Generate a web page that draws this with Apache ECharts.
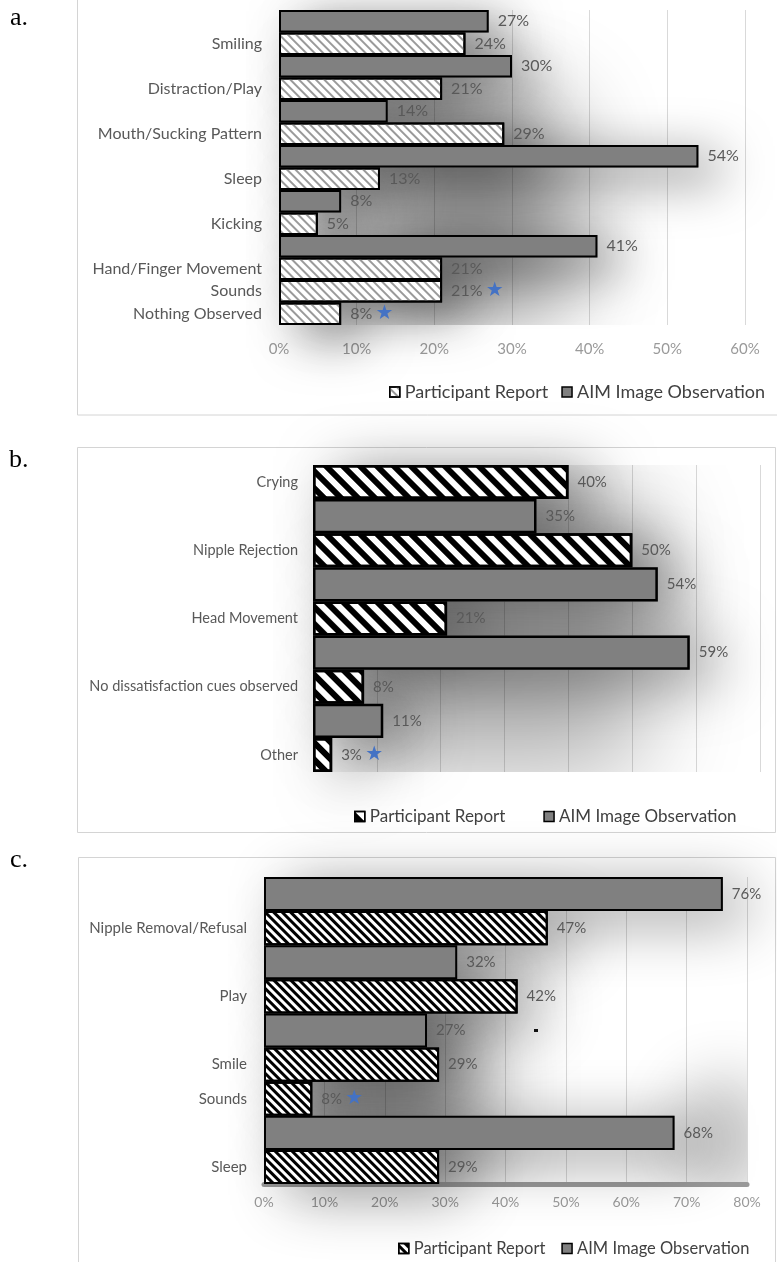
<!DOCTYPE html>
<html>
<head>
<meta charset="utf-8">
<script src="https://cdn.jsdelivr.net/npm/echarts@6/dist/echarts.min.js"></script>
<style>
  html, body { margin: 0; padding: 0; background: #ffffff; }
  #chart { width: 777px; height: 1262px; }
</style>
</head>
<body>
<div id="chart"></div>
<script>
// ---- Panel a: engagement / satiation cues ----
const aCategories = ['Smiling', 'Distraction/Play', 'Mouth/Sucking Pattern', 'Sleep', 'Kicking', 'Hand/Finger Movement', 'Sounds', 'Nothing Observed'];
const aParticipant = [24, 21, 29, 13, 5, 21, 21, 8];
const aAIM = [27, 30, 14, 54, 8, 41, null, null];
const aStarred = ['Sounds', 'Nothing Observed'];
const aAxisMax = 60;

// ---- Panel b: dissatisfaction cues ----
const bCategories = ['Crying', 'Nipple Rejection', 'Head Movement', 'No dissatisfaction cues observed', 'Other'];
const bParticipant = [40, 50, 21, 8, 3];
const bAIM = [35, 54, 59, 11, null];
const bStarred = ['Other'];
const bAxisMax = 70;

// ---- Panel c: end-of-feed cues ----
const cCategories = ['Nipple Removal/Refusal', 'Play', 'Smile', 'Sounds', 'Sleep'];
const cParticipant = [47, 42, 29, 8, 29];
const cAIM = [76, 32, 27, null, 68];
const cStarred = ['Sounds'];
const cAxisMax = 80;

const seriesNames = ['Participant Report', 'AIM Image Observation'];
const tickStep = 10;

const FONT = 'Lato, "Open Sans", sans-serif';
const LABEL_GREY = '#595959';

// One bar row per value; the category name sits on the participant row.
function buildRows(cats, pr, aim, aimFirst) {
  const rows = [];
  cats.forEach((c, i) => {
    const p = { label: c, cat: c, pr: pr[i], aim: null };
    const a = aim[i] == null ? null : { label: '', cat: c, pr: null, aim: aim[i] };
    if (aimFirst) { if (a) rows.push(a); rows.push(p); }
    else { rows.push(p); if (a) rows.push(a); }
  });
  return rows;
}

// Plot-area haze: core box as fractions of the plot [x0, y0, x1, y1], blur radius, opacity
const panels = [
  {
    key: 'a', rows: buildRows(aCategories, aParticipant, aAIM, true), starred: aStarred, max: aAxisMax,
    grid: { left: 279, top: 10, width: 466, height: 315 },
    prDecal: { color: '#9a9a9a', dashArrayY: [2, 3.4] }, border: 2,
    showTicks: true, axisLine: false, tickMargin: 17, tickFont: 15, catFont: 16, valFont: 16, catMargin: 17,
    shadow: { blur: 50, color: 'rgba(0,0,0,0.55)', x: 22, y: 12 },
    haze: [[0.2, 0.28, 0.62, 0.98, 90, 0.42]],
    legend: { left: 384, top: 378, itemGap: 13, fontSize: 18 }
  },
  {
    key: 'b', rows: buildRows(bCategories, bParticipant, bAIM, false), starred: bStarred, max: bAxisMax,
    grid: { left: 313, top: 465, width: 447, height: 307 },
    prDecal: { color: '#000000', dashArrayY: [5.5, 5.5] }, border: 2.5,
    showTicks: false, axisLine: false, tickMargin: 14, tickFont: 14, catFont: 14.5, valFont: 15, catMargin: 15,
    shadow: { blur: 60, color: 'rgba(0,0,0,0.5)', x: 26, y: 8 },
    haze: [[0.08, 0.08, 0.74, 1.0, 100, 0.3]],
    legend: { left: 349, top: 803, itemGap: 38, fontSize: 17 }
  },
  {
    key: 'c', rows: buildRows(cCategories, cParticipant, cAIM, true), starred: cStarred, max: cAxisMax,
    grid: { left: 264, top: 877, width: 483, height: 307 },
    prDecal: { color: '#000000', dashArrayY: [2.6, 2.6] }, border: 2,
    showTicks: true, axisLine: true, tickMargin: 11, tickFont: 14, catFont: 15, valFont: 15, catMargin: 17,
    shadow: { blur: 60, color: 'rgba(0,0,0,0.45)', x: 24, y: 10 },
    haze: [[0.08, 0.32, 0.45, 1.05, 90, 0.4], [0.86, 0.65, 1.05, 1.05, 60, 0.22]],
    legend: { left: 393, top: 1235, itemGap: 16, fontSize: 16.5 }
  }
];

const option = {
  animation: false,
  backgroundColor: '#ffffff',
  grid: [], xAxis: [], yAxis: [], series: [], legend: [],
  graphic: {
    elements: [
      // panel frames
      { type: 'rect', shape: { x: 77.5, y: -2, width: 705, height: 417 }, style: { fill: 'none', stroke: '#d4d4d4', lineWidth: 1 }, z: 0 },
      { type: 'rect', shape: { x: 77.5, y: 447.5, width: 698, height: 385 }, style: { fill: 'none', stroke: '#d4d4d4', lineWidth: 1 }, z: 0 },
      { type: 'rect', shape: { x: 78.5, y: 857.5, width: 697, height: 410 }, style: { fill: 'none', stroke: '#d4d4d4', lineWidth: 1 }, z: 0 },
      // panel letters
      { type: 'text', left: 10, top: 5, style: { text: 'a.', font: '26px "Liberation Serif", "DejaVu Serif", serif', fill: '#000' } },
      { type: 'text', left: 9, top: 447, style: { text: 'b.', font: '26px "Liberation Serif", "DejaVu Serif", serif', fill: '#000' } },
      { type: 'text', left: 10, top: 847, style: { text: 'c.', font: '26px "Liberation Serif", "DejaVu Serif", serif', fill: '#000' } },
      // small stray mark inside panel c
      { type: 'rect', shape: { x: 534, y: 1029, width: 4, height: 3 }, style: { fill: '#111' }, z: 10 }
    ]
  }
};

const FAR = 4000; // the haze source is drawn off-canvas; only its blurred shadow lands in the plot

panels.forEach((pn, idx) => {
  const rows = pn.rows;
  option.grid.push(Object.assign({ containLabel: false }, pn.grid));
  option.xAxis.push({
    type: 'value', gridIndex: idx, min: 0, max: pn.max, interval: tickStep,
    axisLine: { show: pn.axisLine, lineStyle: { color: '#9a9a9a', width: 5 } },
    axisTick: { show: false },
    axisLabel: { show: pn.showTicks, formatter: '{value}%', color: '#9a9a9a', fontSize: pn.tickFont, fontFamily: FONT, margin: pn.tickMargin },
    splitLine: { show: true, lineStyle: { color: '#d9d9d9', width: 1 } }
  });
  option.yAxis.push({
    type: 'category', gridIndex: idx, inverse: true,
    data: rows.map((r, i) => pn.key + i),
    axisLine: { show: false }, axisTick: { show: false }, splitLine: { show: false },
    axisLabel: {
      interval: 0, margin: pn.catMargin, color: LABEL_GREY, fontSize: pn.catFont, fontFamily: FONT,
      formatter: (v, i) => rows[i].label
    }
  });

  // grey haze clipped to the plot area
  option.series.push({
    type: 'custom', name: pn.key + '|haze', xAxisIndex: idx, yAxisIndex: idx, silent: true, z: 0,
    clip: true, data: [0],
    renderItem: (params, api) => {
      const cs = params.coordSys;
      return {
        type: 'group',
        children: pn.haze.map(h => {
          const [fx0, fy0, fx1, fy1, blur, alpha] = h;
          return {
            type: 'rect',
            shape: {
              x: cs.x + fx0 * cs.width - FAR, y: cs.y + fy0 * cs.height,
              width: (fx1 - fx0) * cs.width, height: (fy1 - fy0) * cs.height, r: 40
            },
            style: { fill: '#000', shadowBlur: blur, shadowColor: 'rgba(0,0,0,' + alpha + ')', shadowOffsetX: FAR }
          };
        })
      };
    }
  });

  const prName = pn.key + '|' + seriesNames[0];
  const aimName = pn.key + '|' + seriesNames[1];

  // blurred drop shadow behind the bars
  option.series.push({
    type: 'bar', name: pn.key + '|shadow', xAxisIndex: idx, yAxisIndex: idx, silent: true, z: 1,
    barGap: '-100%', barCategoryGap: '0%',
    data: rows.map(r => (r.pr != null ? r.pr : r.aim)),
    itemStyle: {
      color: '#8a8a8a', borderWidth: 0,
      shadowBlur: pn.shadow.blur, shadowColor: pn.shadow.color,
      shadowOffsetX: pn.shadow.x, shadowOffsetY: pn.shadow.y
    },
    label: { show: false }
  });

  const valueLabel = {
    show: true, position: 'right', distance: 9,
    formatter: p => {
      const r = rows[p.dataIndex];
      const star = pn.starred.includes(r.cat) ? ' {s|★}' : '';
      return '{v|' + p.value + '%}' + star;
    },
    rich: {
      v: { color: LABEL_GREY, fontSize: pn.valFont, fontFamily: FONT },
      s: { color: '#4472c4', fontSize: 20, fontFamily: '"DejaVu Sans", sans-serif' }
    }
  };

  option.series.push({
    type: 'bar', name: prName, xAxisIndex: idx, yAxisIndex: idx, z: 2,
    barGap: '-100%', barCategoryGap: '0%',
    data: rows.map(r => (r.pr != null ? r.pr : '-')),
    itemStyle: {
      color: '#ffffff', borderColor: '#000000', borderWidth: pn.border,
      decal: Object.assign({ symbol: 'rect', symbolSize: 1, dashArrayX: [1, 0], rotation: Math.PI / 4 }, pn.prDecal)
    },
    label: valueLabel
  });
  option.series.push({
    type: 'bar', name: aimName, xAxisIndex: idx, yAxisIndex: idx, z: 2,
    barGap: '-100%', barCategoryGap: '0%',
    data: rows.map(r => (r.aim != null ? r.aim : '-')),
    itemStyle: { color: '#808080', borderColor: '#000000', borderWidth: pn.border },
    label: valueLabel
  });

  option.legend.push({
    left: pn.legend.left, top: pn.legend.top, itemGap: pn.legend.itemGap,
    itemWidth: 10, itemHeight: 10, icon: 'rect', selectedMode: false,
    data: [prName, aimName],
    formatter: n => n.split('|')[1],
    itemStyle: { borderColor: '#000000', borderWidth: 1.5 },
    textStyle: { color: '#404040', fontSize: pn.legend.fontSize, fontFamily: FONT }
  });
});

const chart = echarts.init(document.getElementById('chart'), null, { renderer: 'canvas' });
chart.setOption(option);
</script>
</body>
</html>
